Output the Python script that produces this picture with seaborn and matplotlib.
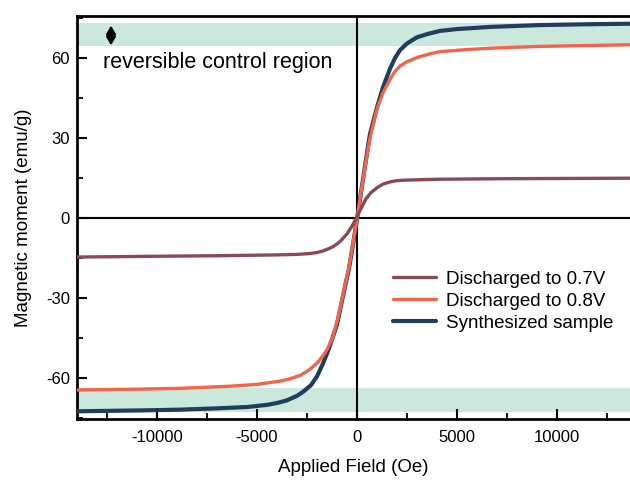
import matplotlib
matplotlib.use("Agg")
import matplotlib.pyplot as plt
import seaborn as sns
import pandas as pd
from matplotlib.ticker import MultipleLocator

# field (Oe) and magnetic moment (emu/g)
synth_field = [-14000, -11000, -8850, -7000, -5500, -4500, -4000, -3500, -3000, -2700, -2300,
               -2000, -1720, -1450, -1220, -1000, -720, -400, -200, 0, 200, 400, 650, 1000,
               1300, 1650, 1900, 2150, 2500, 3000, 3500, 4150, 5000, 6650, 9150, 11500, 13650]
synth_moment = [-72.6, -72.3, -72.0, -71.5, -71.0, -70.2, -69.5, -68.5, -66.8, -65.3, -62.8,
                -59.5, -55.0, -50.0, -45.0, -40.0, -30.0, -19.0, -10.0, -0.5, 9.5, 19.5, 31.5,
                41.5, 49.0, 56.0, 60.0, 63.0, 65.5, 67.8, 69.0, 70.2, 70.9, 71.7, 72.4, 72.7,
                72.9]

v08_field = [-14000, -11000, -8850, -6350, -5000, -3850, -3380, -2800, -2380, -2000, -1720,
             -1500, -1220, -1000, -720, -400, -200, 0, 200, 400, 650, 1000, 1300, 1650, 1900,
             2150, 2500, 3000, 3650, 4150, 5500, 6650, 9150, 11500, 13650]
v08_moment = [-64.6, -64.3, -64.0, -63.2, -62.5, -61.3, -60.5, -59.0, -57.0, -54.5, -52.0,
              -49.5, -45.0, -39.0, -29.5, -18.5, -9.5, -0.5, 9.5, 19.0, 30.0, 41.0, 47.0, 52.0,
              55.0, 57.0, 58.6, 60.2, 61.6, 62.4, 63.2, 63.7, 64.4, 64.7, 65.0]

v07_field = [-14000, -10000, -7000, -4100, -3000, -2400, -2000, -1700, -1400, -1200, -1000,
             -800, -500, -200, 0, 200, 450, 700, 1000, 1300, 1650, 2000, 2500, 4000, 7000,
             10000, 13650]
v07_moment = [-14.7, -14.4, -14.2, -13.9, -13.7, -13.4, -13.0, -12.4, -11.5, -10.8, -9.8,
              -8.5, -6.0, -2.5, 0.5, 3.5, 7.2, 9.5, 11.3, 12.7, 13.5, 14.0, 14.2, 14.5, 14.7,
              14.8, 14.9]

band_top = (64.5, 73.0)
band_bottom = (-72.7, -64.0)

sns.set_style("ticks")
plt.rcParams['font.family'] = ['Liberation Sans', 'DejaVu Sans']
plt.rcParams['axes.unicode_minus'] = False
plt.rcParams['text.color'] = 'black'
plt.rcParams['axes.labelcolor'] = 'black'
plt.rcParams['xtick.color'] = 'black'
plt.rcParams['ytick.color'] = 'black'

fig = plt.figure(figsize=(6.3, 4.88), dpi=100)
ax = fig.add_axes([0.1222, 0.1414, 0.8778, 0.8258])

ax.axhspan(*band_top, color="#cbe8dc", lw=0, zorder=0)
ax.axhspan(*band_bottom, color="#cbe8dc", lw=0, zorder=0)
ax.axhline(0, color="black", lw=1.5, zorder=1)
ax.axvline(0, color="black", lw=1.5, zorder=1)

df_s = pd.DataFrame({"field": synth_field, "moment": synth_moment})
df_8 = pd.DataFrame({"field": v08_field, "moment": v08_moment})
df_7 = pd.DataFrame({"field": v07_field, "moment": v07_moment})

l_s = sns.lineplot(data=df_s, x="field", y="moment", color="#1f3d5c", lw=3.0, sort=False, ax=ax,
                   zorder=3).lines[-1]
l_8 = sns.lineplot(data=df_8, x="field", y="moment", color="#f4634a", lw=2.4, sort=False, ax=ax,
                   zorder=4).lines[-1]
l_7 = sns.lineplot(data=df_7, x="field", y="moment", color="#8a4a55", lw=2.4, sort=False, ax=ax,
                   zorder=5).lines[-1]
for ln in (l_s, l_8, l_7):
    ln.set_solid_joinstyle("round")

ax.legend([l_7, l_8, l_s], ["Discharged to 0.7V", "Discharged to 0.8V", "Synthesized sample"],
          frameon=False, fontsize=13.5, handlelength=2.3, handletextpad=0.5, labelspacing=0.25,
          loc="lower right", bbox_to_anchor=(1.0, 0.175))

ax.annotate("", xy=(-12300, 72.2), xytext=(-12300, 64.8),
            arrowprops=dict(arrowstyle="<|-|>,head_length=0.6,head_width=0.35", color="black",
                            lw=1.6, mutation_scale=8, shrinkA=0, shrinkB=0))
ax.text(-12700, 58.5, "reversible control region", fontsize=15.5, va="center", ha="left")

ax.set_xlim(-14000, 13650)
ax.set_ylim(-75.5, 75.8)
ax.xaxis.set_major_locator(MultipleLocator(5000))
ax.xaxis.set_minor_locator(MultipleLocator(2500))
ax.yaxis.set_major_locator(MultipleLocator(30))
ax.yaxis.set_minor_locator(MultipleLocator(15))
ax.tick_params(which="major", direction="in", length=7, width=1.5, labelsize=12, pad=8)
ax.tick_params(which="minor", direction="in", length=4, width=1.3)
ax.tick_params(axis="y", pad=5)

for side in ["left", "bottom", "top"]:
    ax.spines[side].set_linewidth(2)
    ax.spines[side].set_color("black")
ax.spines["right"].set_visible(False)

ax.set_xlabel("Applied Field (Oe)", fontsize=13.5, labelpad=10)
ax.set_ylabel("Magnetic moment (emu/g)", fontsize=13.5, labelpad=10)

fig.savefig("out.png", dpi=100)
